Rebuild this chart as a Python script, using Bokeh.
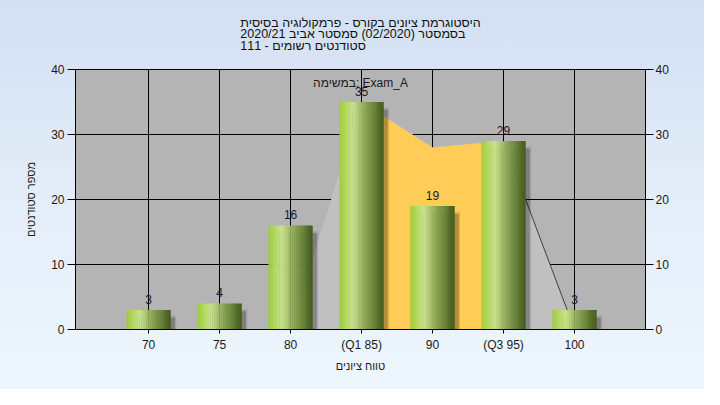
from bokeh.plotting import figure
from bokeh.models import Range1d, FixedTicker, LinearAxis, Label, ColumnDataSource, Title
from bokeh.core.properties import value
from bokeh.embed import file_html
from bokeh.resources import INLINE

# ---- data ----
categories = ["70", "75", "80", "(Q1 85)", "90", "(Q3 95)", "100"]
counts = [3, 4, 16, 35, 19, 29, 3]
curve = [0, 0, 0, 35, 28, 29, 0]          # smoothed distribution area
q1_index = 3
q3_index = 5
y_ticks = [0, 10, 20, 30, 40]
title_lines = [
    "היסטוגרמת ציונים בקורס - פרמקולוגיה בסיסית",
    "בסמסטר  (02/2020)  סמסטר אביב 2020/21",
    "סטודנטים רשומים - 111",
]
series_label = "במשימה: Exam_A"
x_title = "טווח ציונים"
y_title = "מספר סטודנטים"

xs = list(range(1, len(categories) + 1))
FONT = "Liberation Sans"

p = figure(width=704, height=389, output_backend="svg", toolbar_location=None,
           x_range=Range1d(-0.03, 8.0), y_range=Range1d(0, 40),
           min_border_left=75, min_border_right=59, min_border_top=69, min_border_bottom=60)
p.border_fill_color = None
p.styles = {"background": "linear-gradient(to bottom, #d2dff3 0%, #e2ecf8 45%, #eef6fd 100%)"}
p.background_fill_color = "#b4b4b4"
p.outline_line_color = "black"
p.outline_line_width = 1

# multi-line title
p.add_layout(Title(text="\n".join(title_lines), align="center", vertical_align="top",
                   text_font=FONT, text_font_size="12.5px", text_font_style="normal",
                   text_color="#111111", standoff=28, text_line_height=0.85), "above")

# grid
p.xgrid.ticker = FixedTicker(ticks=xs)
p.ygrid.ticker = FixedTicker(ticks=y_ticks)
for g in (p.xgrid, p.ygrid):
    g.grid_line_color = "black"
    g.grid_line_width = 1

# axes
p.xaxis.ticker = FixedTicker(ticks=xs)
p.xaxis.major_label_overrides = {x: c for x, c in zip(xs, categories)}
p.xaxis.axis_label = x_title
p.yaxis.ticker = FixedTicker(ticks=y_ticks)
p.yaxis.axis_label = y_title
right = LinearAxis(ticker=FixedTicker(ticks=y_ticks))
p.add_layout(right, "right")

for ax in (p.xaxis[0], p.yaxis[0], right):
    ax.axis_line_color = "black"
    ax.major_tick_line_color = "black"
    ax.minor_tick_line_color = None
    ax.major_tick_in = 0
    ax.major_label_text_font = FONT
    ax.major_label_text_font_size = "12px"
    ax.major_label_text_color = "#1a1a1a"
    ax.axis_label_text_font = FONT
    ax.axis_label_text_font_size = "11px"
    ax.axis_label_text_font_style = "normal"
    ax.axis_label_text_color = "#1a1a1a"
p.yaxis[0].major_tick_out = 8
p.yaxis[0].major_label_standoff = 3
p.yaxis[0].axis_label_standoff = 11
right.major_tick_out = 8
right.major_label_standoff = 2
p.xaxis[0].major_tick_out = 4
p.xaxis[0].major_label_standoff = 4
p.xaxis[0].axis_label_standoff = 5

# distribution area (gray) and Q1-Q3 band (orange)
p.varea(x=xs, y1=[0] * len(xs), y2=curve, fill_color="#c0c0c0")
p.varea(x=xs[q1_index:q3_index + 1], y1=[0] * (q3_index - q1_index + 1),
        y2=curve[q1_index:q3_index + 1], fill_color="#fecc57")
p.line(x=xs[q3_index:q3_index + 2], y=curve[q3_index:q3_index + 2],
       line_color="#404040", line_width=1)

# bar shadows
bw = 0.62
p.vbar(x=[x + 0.06 for x in xs], width=bw + 0.04, top=[c - 0.9 for c in counts], bottom=0,
       fill_color="black", fill_alpha=0.10, line_color=None)
p.vbar(x=[x + 0.06 for x in xs], width=bw, top=[c - 1.2 for c in counts], bottom=0,
       fill_color="black", fill_alpha=0.22, line_color=None)

# gradient bars built from vertical strips
stops = [(0.0, (156, 206, 52)), (0.30, (202, 227, 142)), (0.55, (146, 172, 92)),
         (0.85, (92, 118, 45)), (1.0, (66, 88, 28))]


def grad(t):
    for (t0, c0), (t1, c1) in zip(stops[:-1], stops[1:]):
        if t0 <= t <= t1:
            f = (t - t0) / (t1 - t0)
            return "#%02x%02x%02x" % tuple(int(round(a + (b - a) * f)) for a, b in zip(c0, c1))
    return "#%02x%02x%02x" % stops[-1][1]


n = 24
sw = bw / n
for i in range(n):
    t = (i + 0.5) / n
    col = grad(t)
    p.vbar(x=[x - bw / 2 + (i + 0.5) * sw for x in xs], width=sw * 1.15, top=counts, bottom=0,
           fill_color=col, line_color=None)

# value labels
src = ColumnDataSource(dict(x=xs, y=counts, t=[str(c) for c in counts]))
p.text(x="x", y="y", text="t", source=src, text_align="center", text_baseline="alphabetic",
       y_offset=-11, text_font=value(FONT), text_font_size="12px", text_color="#1a1a2a")

# series label
p.add_layout(Label(x=285, y=247, x_units="screen", y_units="screen", text=series_label,
                   text_align="center", text_baseline="middle", text_font=FONT,
                   text_font_size="12px", text_color="#1a1a1a"))

open("out.html", "w").write(file_html(p, INLINE))
